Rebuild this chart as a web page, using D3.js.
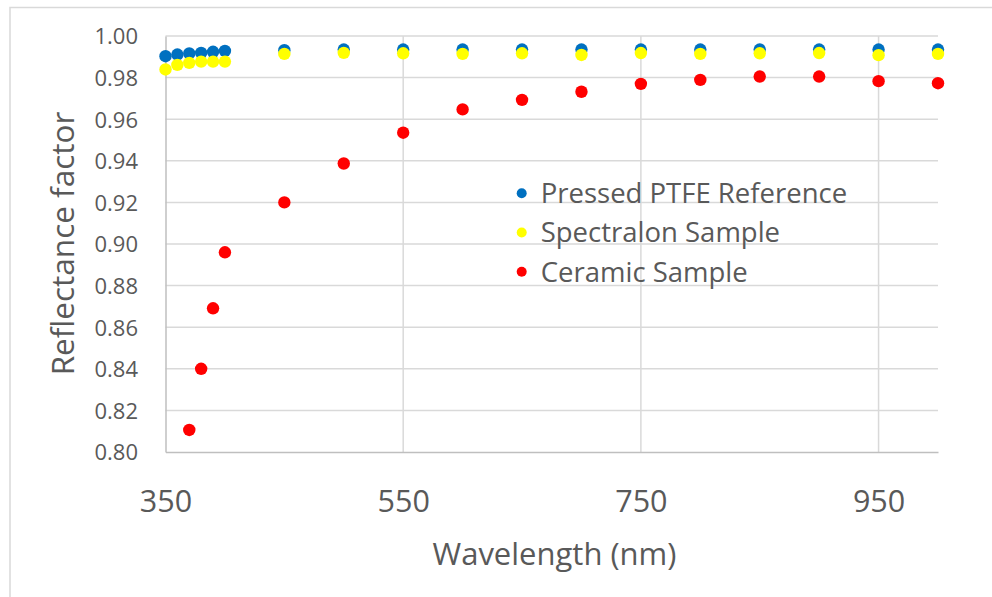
<!DOCTYPE html>
<html>
<head>
<meta charset="utf-8">
<script src="https://cdn.jsdelivr.net/npm/d3@7"></script>
<style>
html,body{margin:0;padding:0;background:#fff;}
svg{display:block;}
text{font-family:"Open Sans",sans-serif;fill:#595959;}
</style>
</head>
<body>
<svg id="chart" width="992" height="597"></svg>
<script>
// ---- data ----
const wavelengths = [350,360,370,380,390,400,450,500,550,600,650,700,750,800,850,900,950,1000];
const ptfeReference = [0.9903,0.9911,0.9916,0.9919,0.9924,0.9928,0.9932,0.9935,0.9935,0.9935,0.9935,0.9935,0.9935,0.9935,0.9935,0.9935,0.9935,0.9935];
const spectralonSample = [0.9839,0.9861,0.9871,0.9877,0.9877,0.9877,0.9914,0.9919,0.9917,0.9914,0.9917,0.9909,0.9918,0.9914,0.9917,0.9918,0.9908,0.9914];
const ceramicSample = [null,null,0.8106,0.8400,0.8691,0.8960,0.9200,0.9387,0.9535,0.9647,0.9693,0.9732,0.9770,0.9789,0.9805,0.9805,0.9783,0.9773];
const seriesNames = ["Pressed PTFE Reference","Spectralon Sample","Ceramic Sample"];
const seriesColors = ["#0070C0","#FFFF00","#FF0000"];
const xTickValues = [350,550,750,950];
const yTickValues = [0.80,0.82,0.84,0.86,0.88,0.90,0.92,0.94,0.96,0.98,1.00];
const xDomain = [350,1000];
const yDomain = [0.80,1.00];

(function(){
const seriesValues = [ptfeReference, spectralonSample, ceramicSample];

const svg = d3.select("#chart");
const pLeft = 165.5, pRight = 938, pTop = 36, pBottom = 452;

// chart-area border
svg.append("rect").attr("x",10).attr("y",7.5).attr("width",1100).attr("height",700)
  .attr("fill","none").attr("stroke","#d9d9d9").attr("stroke-width",1.5);

const x = d3.scaleLinear().domain(xDomain).range([pLeft,pRight]);
const y = d3.scaleLinear().domain(yDomain).range([pBottom,pTop]);

// horizontal gridlines
svg.append("g").selectAll("line").data(yTickValues.filter(v=>v>0.80))
  .join("line")
  .attr("x1",pLeft).attr("x2",pRight)
  .attr("y1",d=>y(d)).attr("y2",d=>y(d))
  .attr("stroke","#d9d9d9").attr("stroke-width",1.5);
// vertical gridlines
svg.append("g").selectAll("line").data(xTickValues.filter(v=>v>350))
  .join("line")
  .attr("x1",d=>x(d)).attr("x2",d=>x(d))
  .attr("y1",pTop).attr("y2",pBottom)
  .attr("stroke","#d9d9d9").attr("stroke-width",1.5);

// axes
const xAxis = d3.axisBottom(x).tickValues(xTickValues).tickSize(0).tickPadding(0).tickFormat(d3.format("d"));
const gx = svg.append("g").attr("transform",`translate(0,${pBottom})`).call(xAxis);
gx.select(".domain").attr("stroke","#bfbfbf").attr("stroke-width",1.5);
gx.selectAll("text").attr("y",59.5).attr("dy",null).style("font-size","30.5px").attr("fill","#595959");

const yAxis = d3.axisLeft(y).tickValues(yTickValues).tickSize(0).tickPadding(0).tickFormat(d3.format(".2f"));
const gy = svg.append("g").attr("transform",`translate(${pLeft},0)`).call(yAxis);
gy.select(".domain").attr("stroke","#bfbfbf").attr("stroke-width",1.5);
gy.selectAll("text").attr("x",-27.5).attr("dy","0.36em").style("font-size","22px").attr("fill","#595959");

// points
seriesValues.forEach((vals,i)=>{
  const pts = wavelengths.map((w,j)=>({w, v:vals[j]})).filter(d=>d.v!=null);
  svg.append("g").selectAll("circle").data(pts).join("circle")
    .attr("cx",d=>x(d.w)).attr("cy",d=>y(d.v)).attr("r",6.2)
    .attr("fill",seriesColors[i]);
});

// legend
const lg = svg.append("g").attr("transform","translate(521.7,193.3)");
seriesNames.forEach((name,i)=>{
  const row = lg.append("g").attr("transform",`translate(0,${i*39.2})`);
  row.append("circle").attr("r",5).attr("fill",seriesColors[i]);
  row.append("text").attr("x",19).attr("y",9.8).style("font-size","27.5px").text(name);
});

// axis titles
svg.append("text").attr("x",554.5).attr("y",565).attr("text-anchor","middle")
  .style("font-size","31px").text("Wavelength (nm)");
svg.append("text").attr("transform","translate(73.5,243.5) rotate(-90)").attr("text-anchor","middle")
  .style("font-size","31.5px").text("Reflectance factor");
})();
</script>
</body>
</html>
